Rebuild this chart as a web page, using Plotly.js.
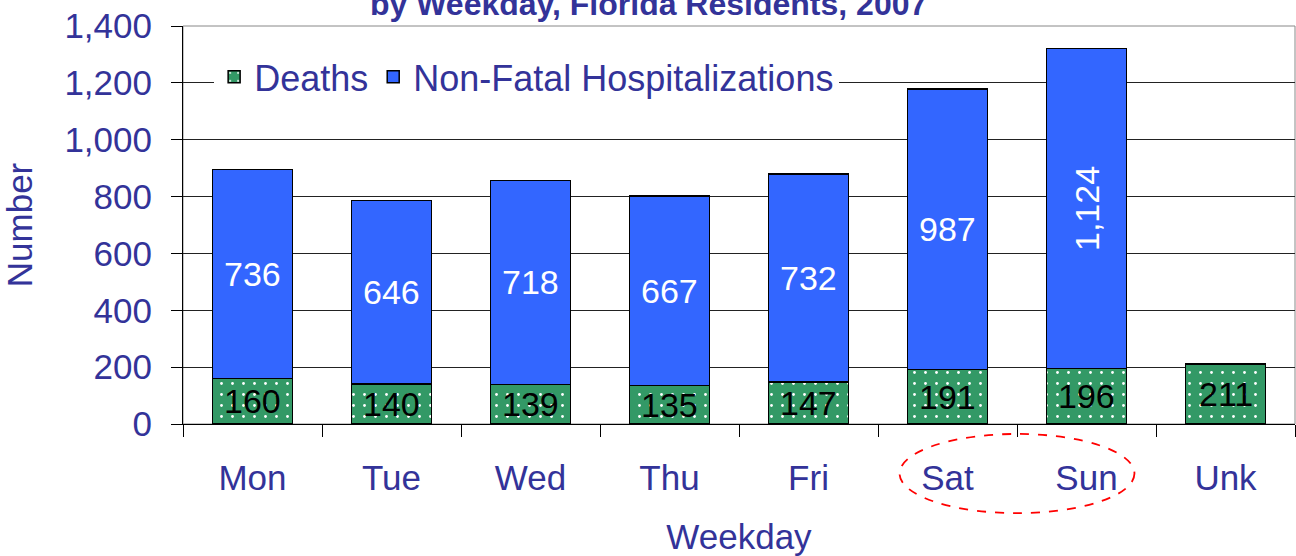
<!DOCTYPE html>
<html>
<head>
<meta charset="utf-8">
<script src="https://cdn.plot.ly/plotly-3.0.1.min.js"></script>
<style>
  html, body { margin: 0; padding: 0; background: #fff; }
  #chart { width: 1296px; height: 556px; }
</style>
</head>
<body>
<div id="chart"></div>
<script>
// ---- data ----
const weekdays = ['Mon', 'Tue', 'Wed', 'Thu', 'Fri', 'Sat', 'Sun', 'Unk'];
const deaths = [160, 140, 139, 135, 147, 191, 196, 211];
const hospitalizations = [736, 646, 718, 667, 732, 987, 1124, null];
const yTickValues = [0, 200, 400, 600, 800, 1000, 1200, 1400];
const titleText = 'by Weekday, Florida Residents, 2007';
const highlighted = ['Sat', 'Sun'];

// ---- styling ----
const NAVY = '#333399';
const FONT = 'Liberation Sans, Arial, sans-serif';
const GREEN = '#339966';
const BLUE = '#3366FF';
const W = 1296, H = 556;
const M = { l: 183, r: 1, t: 26, b: 132 };

const fmt = v => v.toLocaleString('en-US');

const traces = [
  {
    type: 'bar',
    name: 'Deaths',
    x: weekdays,
    y: deaths,
    marker: {
      color: GREEN,
      line: { color: '#000', width: 1.5 },
      pattern: { shape: '.', fgcolor: '#ffffff', bgcolor: GREEN, size: 11, solidity: 0.05 }
    },
    hoverinfo: 'x+y+name'
  },
  {
    type: 'bar',
    name: 'Non-Fatal Hospitalizations',
    x: weekdays,
    y: hospitalizations,
    marker: { color: BLUE, line: { color: '#000', width: 1.5 } },
    hoverinfo: 'x+y+name'
  }
];

const annotations = [];
weekdays.forEach((d, i) => {
  annotations.push({
    x: d, y: deaths[i] / 2, xref: 'x', yref: 'y',
    text: fmt(deaths[i]), showarrow: false,
    font: { family: FONT, size: 34, color: '#000' }
  });
  const h = hospitalizations[i];
  if (h != null) {
    const label = fmt(h);
    annotations.push({
      x: d, y: deaths[i] + h / 2, xref: 'x', yref: 'y',
      text: label, showarrow: false,
      textangle: label.length > 3 ? -90 : 0,
      font: { family: FONT, size: 34, color: '#fff' }
    });
  }
});
// title centred on the page (not on the plot area)
annotations.push({
  x: (W / 2 - M.l) / (W - M.l - M.r), y: 1, xref: 'paper', yref: 'paper',
  xanchor: 'center', yanchor: 'bottom',
  yshift: 2, showarrow: false, text: '<b>' + titleText + '</b>',
  font: { family: FONT, size: 32, color: NAVY }
});

const i0 = weekdays.indexOf(highlighted[0]);
const i1 = weekdays.indexOf(highlighted[1]);

const layout = {
  width: W, height: H,
  margin: M,
  paper_bgcolor: '#fff', plot_bgcolor: '#fff',
  barmode: 'stack',
  bargap: 0.425,
  font: { family: FONT, color: NAVY },
  showlegend: true,
  legend: {
    orientation: 'h', x: 0.028, y: 0.872, xanchor: 'left', yanchor: 'middle',
    bgcolor: '#fff', font: { family: FONT, size: 36, color: NAVY },
    traceorder: 'normal'
  },
  xaxis: {
    type: 'category',
    tickson: 'boundaries', ticks: 'outside', ticklen: 12, tickcolor: '#000', tickwidth: 1,
    showline: true, linecolor: '#000', linewidth: 1,
    showgrid: false,
    tickfont: { family: FONT, size: 35, color: NAVY },
    ticklabelstandoff: 23,
    title: { text: 'Weekday', font: { family: FONT, size: 35, color: NAVY }, standoff: 29 }
  },
  yaxis: {
    range: [0, 1400], tickvals: yTickValues, tickformat: ',d',
    ticks: 'outside', ticklen: 11, tickcolor: '#000',
    showline: true, linecolor: '#000', linewidth: 1,
    showgrid: true, gridcolor: '#222', gridwidth: 1, zeroline: false,
    tickfont: { family: FONT, size: 35, color: NAVY },
    ticklabelstandoff: 12,
    title: { text: 'Number', font: { family: FONT, size: 35, color: NAVY }, standoff: 28 }
  },
  shapes: [
    { type: 'rect', xref: 'paper', yref: 'paper', x0: 0, x1: 1, y0: 0, y1: 1,
      line: { color: '#888', width: 1 }, layer: 'below' },
    { type: 'circle', xref: 'x', yref: 'paper', x0: i0 - 0.345, x1: i1 + 0.345,
      y0: -0.224, y1: -0.025, line: { color: '#FF0000', width: 1.8, dash: 'dash' } }
  ],
  annotations: annotations
};

Plotly.newPlot('chart', traces, layout, { displayModeBar: false, staticPlot: true });
</script>
</body>
</html>
